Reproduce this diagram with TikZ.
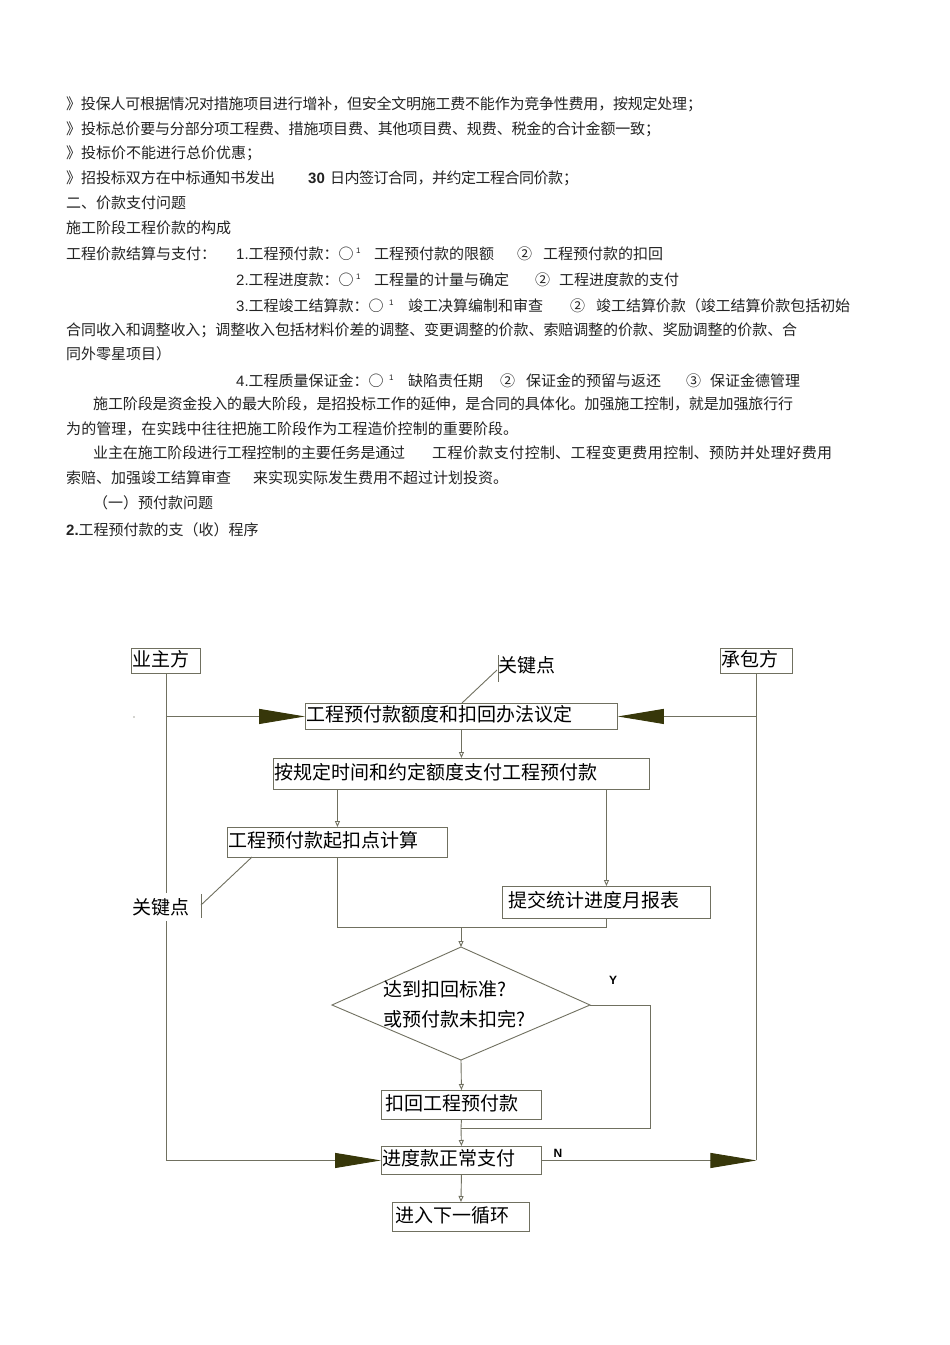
\documentclass[tikz,border=0pt]{standalone}
\usepackage{fontspec}
\setmainfont{Noto Sans CJK SC}
\newfontfamily\lat{Liberation Sans}
\usetikzlibrary{arrows.meta}
\XeTeXlinebreaklocale "zh"
\XeTeXlinebreakskip=0pt plus 3pt minus 1.5pt
\definecolor{lc}{RGB}{112,112,96}
\definecolor{adk}{RGB}{55,55,10}
\definecolor{tx}{RGB}{35,35,35}
\newcommand{\hfs}{\fontsize{15}{17}\selectfont}
\newcommand{\ffs}{\fontsize{19}{22}\selectfont}
\newcommand{\jt}[5]{\node[hd] (#1) at (#2,#3+5.6) {\parbox[b]{#4pt}{\tolerance=5000\parindent=0pt\parfillskip=0pt\XeTeXlinebreakskip=0pt plus 3pt minus 1.5pt #5}};}
\newcommand{\nt}[4]{\node[hd] (#1) at (#2,#3+5.6) {#4};}
\begin{document}
\begin{tikzpicture}[x=1pt,y=-1pt,
  hd/.style={anchor=base west, inner sep=0pt, font=\hfs, text=tx},
  sp/.style={anchor=base west, inner sep=0pt, font=\lat\fontsize{8}{8}\selectfont, text=tx},
  fb/.style={draw=lc, line width=0.9pt, fill=white, anchor=north west, inner xsep=1.5pt, inner ysep=0pt, font=\ffs, align=left, text height=15pt, text depth=4pt},
  ln/.style={draw=lc, line width=0.9pt},
  sa/.style={ln, -{Triangle[open, length=6pt, width=5pt]}},
  ba/.style={ln, -{Triangle[length=46pt, width=15pt, color=adk]}},
  kp/.style={font=\ffs, inner sep=0pt, anchor=west},
  yn/.style={font=\lat\bfseries\fontsize{12}{12}\selectfont, inner sep=0pt}]
\fill[white] (0,0) rectangle (950,1345);
\useasboundingbox (0,0) rectangle (950,1345);
% ---------- header text ----------
\jt{l1}{66}{104}{636}{》投保人可根据情况对措施项目进行增补，但安全文明施工费不能作为竞争性费用，按规定处理；}
\jt{l2}{66}{129}{594}{》投标总价要与分部分项工程费、措施项目费、其他项目费、规费、税金的合计金额一致；}
\nt{l3}{66}{153}{》投标价不能进行总价优惠；}
\jt{l4a}{66}{178}{209}{》招投标双方在中标通知书发出}
\node[hd, font=\lat\bfseries\fontsize{15}{17}\selectfont] (l4n) at (308,178+5.6) {30};
\jt{l4b}{330}{178}{248}{日内签订合同，并约定工程合同价款；}
\nt{l5}{66}{203}{二、价款支付问题}
\nt{l6}{66}{228}{施工阶段工程价款的构成}
\nt{l7a}{66}{254}{工程价款结算与支付：}
\nt{l7b}{236}{254}{{\lat 1.}工程预付款：○}
\node[sp] (l7s) at (356,254-1) {1};
\nt{l7c}{374}{254}{工程预付款的限额}
\nt{l7d}{517}{254}{②}
\nt{l7e}{543}{254}{工程预付款的扣回}
\nt{l8b}{236}{280}{{\lat 2.}工程进度款：○}
\node[sp] (l8s) at (356,280-1) {1};
\nt{l8c}{374}{280}{工程量的计量与确定}
\nt{l8d}{535}{280}{②}
\nt{l8e}{559}{280}{工程进度款的支付}
\nt{l9b}{236}{306}{{\lat 3.}工程竣工结算款：○}
\node[sp] (l9s) at (389,306-1) {1};
\nt{l9c}{408}{306}{竣工决算编制和审查}
\nt{l9d}{570}{306}{②}
\jt{l9e}{596}{306}{254}{竣工结算价款（竣工结算价款包括初始}
\jt{l10}{66}{330}{731}{合同收入和调整收入；调整收入包括材料价差的调整、变更调整的价款、索赔调整的价款、奖励调整的价款、合}
\nt{l11}{66}{354}{同外零星项目）}
\nt{l12b}{236}{381}{{\lat 4.}工程质量保证金：○}
\node[sp] (l12s) at (389,381-1) {1};
\nt{l12c}{408}{381}{缺陷责任期}
\nt{l12d}{500}{381}{②}
\nt{l12e}{526}{381}{保证金的预留与返还}
\nt{l12f}{686}{381}{③}
\nt{l12g}{710}{381}{保证金德管理}
\jt{l13}{93}{404}{700}{施工阶段是资金投入的最大阶段，是招投标工作的延伸，是合同的具体化。加强施工控制，就是加强旅行行}
\jt{l14}{66}{429}{452}{为的管理，在实践中往往把施工阶段作为工程造价控制的重要阶段。}
\jt{l15a}{93}{453}{312}{业主在施工阶段进行工程控制的主要任务是通过}
\jt{l15b}{432}{453}{400}{工程价款支付控制、工程变更费用控制、预防并处理好费用}
\nt{l16a}{66}{478}{索赔、加强竣工结算审查}
\nt{l16b}{253}{478}{来实现实际发生费用不超过计划投资。}
\nt{l17}{93}{503}{（一）预付款问题}
\nt{l18}{66}{530}{{\lat\bfseries 2.}工程预付款的支（收）程序}
% ---------- flowchart nodes ----------
\node[fb, minimum width=69pt, minimum height=25pt, text width=66pt, inner xsep=0pt] (yz) at (131,648) {业主方};
\node[fb, minimum width=72pt, minimum height=25pt, text width=69pt] (cb) at (720,648) {承包方};
\node[fb, minimum width=312pt, minimum height=26pt, text width=309pt] (b1) at (305,703) {工程预付款额度和扣回办法议定};
\node[fb, minimum width=376pt, minimum height=31pt, text width=373pt] (b2) at (273,758) {按规定时间和约定额度支付工程预付款};
\node[fb, minimum width=220pt, minimum height=30pt, text width=217pt] (b3) at (227,827) {工程预付款起扣点计算};
\node[fb, minimum width=208pt, minimum height=32pt, text width=205pt] (b5) at (502,886) {\hspace{5pt}提交统计进度月报表};
\node[fb, minimum width=160pt, minimum height=29pt, text width=157pt] (b6) at (381,1090) {\hspace{3pt}扣回工程预付款};
\node[fb, minimum width=160pt, minimum height=28pt, text width=157pt] (b7) at (381,1146) {进度款正常支付};
\node[fb, minimum width=137pt, minimum height=29pt, text width=134pt] (b8) at (392,1202) {\hspace{2pt}进入下一循环};
\node[kp] (k1) at (498,665) {关键点};
% diamond
\coordinate (dT) at (461,947);
\coordinate (dR) at (590,1005);
\coordinate (dB) at (461,1060);
\coordinate (dL) at (332,1005);
\draw[ln, fill=white] (dT) -- (dR) -- (dB) -- (dL) -- cycle;
\node[kp] (q1) at (383,989) {达到扣回标准?};
\node[kp] (q2) at (383,1019) {或预付款未扣完?};
\node[yn] (ylab) at (613,980) {Y};
\node[yn] (nlab) at (558,1153) {N};
% ---------- connectors ----------
\draw[ln] (yz.south) -- (yz.south |- b7.west);
\draw[ba] (yz.south |- b1.west) -- (b1.west);
\draw[ba] (yz.south |- b7.west) -- (b7.west);
\draw[ln] (cb.south) -- (cb.south |- b7.east);
\draw[ba] (cb.south |- b1.east) -- (b1.east);
\draw[ba] (b7.east) -- (cb.south |- b7.east);
\draw[sa] (b1.south) -- (b2.north);
\draw[sa] (b3.north |- b2.south) -- (b3.north);
\draw[sa] (b5.north |- b2.south) -- (b5.north);
\coordinate (jn) at (461,927);
\draw[ln] (b3.south) -- (b3.south |- jn) -- (b5.south |- jn) -- (b5.south);
\draw[sa] (jn) -- (dT);
\draw[sa] (dB) -- (b6.north);
\coordinate (jn2) at (461,1128);
\coordinate (yr) at (650,1128);
\draw[ln] (dR) -| (yr) -- (jn2);
\draw[ln] (b6.south) -- (jn2);
\draw[sa] (jn2) -- (b7.north);
\draw[sa] (b7.south) -- (b8.north);
% key point callouts
\draw[ln] ([yshift=10pt]k1.west) -- ([yshift=-17pt]k1.west);
\coordinate (k1t) at (497,670);
\coordinate (k1b) at (462,703);
\draw[ln] (k1t) -- (k1b);
\node[kp, fill=white, inner ysep=5pt] (k2) at (132,907) {关键点};
\coordinate (k2t) at (201,905);
\coordinate (k2b) at (252,857);
\draw[ln] (201,894) -- (201,918);
\draw[ln] (k2t) -- (k2b);
\fill[lc!60] (134,717) circle (0.8);
\end{tikzpicture}
\end{document}
